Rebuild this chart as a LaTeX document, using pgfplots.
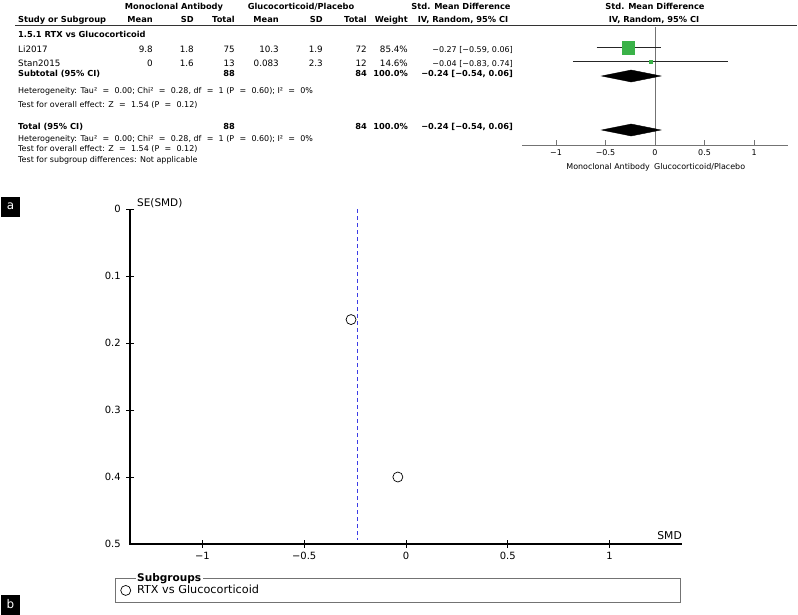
\documentclass[border=0pt]{standalone}
\usepackage{fontspec}
\setmainfont{DejaVu Sans}
\usepackage{pgfplots}
\pgfplotsset{compat=1.18}

\definecolor{boxgreen}{RGB}{58,178,72}
\definecolor{poolblue}{RGB}{60,60,230}
\definecolor{axgray}{RGB}{115,115,115}

\tikzset{
  tx/.style={font=\fontsize{8}{9.6}\selectfont, inner sep=0pt},
  nx/.style={font=\fontsize{8.8}{10}\selectfont, inner sep=0pt},
  bx/.style={font=\fontsize{8.3}{9.6}\selectfont\bfseries, inner sep=0pt},
}
\newcommand{\eq}{\hskip 5.3bp=\hskip 5.3bp}

\begin{document}
\begin{tikzpicture}
\path[use as bounding box] (0,0) rectangle (798bp,-615bp);

% ---- forest plot (panel a, right side)
\begin{axis}[
  at={(522bp,-145bp)}, anchor=south west,
  scale only axis, width=266bp, height=118bp,
  xmin=-1.343, xmax=1.343, ymin=0, ymax=118,
  axis x line=bottom, axis y line=none,
  axis line style={axgray, -},
  xtick={-1,-0.5,0,0.5,1}, xticklabels={−1,−0.5,0,0.5,1},
  tick align=inside, major tick length=5bp, tick style={axgray},
  x tick label style={font=\fontsize{8}{9.6}\selectfont, inner sep=0pt, yshift=-4bp},
  clip=false,
]
\draw[axgray] (axis cs:0,0) -- (axis cs:0,118);
% CI lines
\addplot[black!85, line width=0.7bp] coordinates {(-0.59,97.5) (0.06,97.5)};
\addplot[black!85, line width=0.7bp] coordinates {(-0.83,83.3) (0.74,83.3)};
% study estimates
\addplot[only marks, mark=square*, mark size=6.2bp, mark options={fill=boxgreen, draw=boxgreen}] coordinates {(-0.27,97.5)};
\addplot[only marks, mark=square*, mark size=1.6bp, mark options={fill=boxgreen, draw=boxgreen}] coordinates {(-0.04,83.3)};
% pooled diamonds
\addplot[fill=black, draw=black] coordinates {(-0.54,69) (-0.24,75) (0.06,69) (-0.24,63)} -- cycle;
\addplot[fill=black, draw=black] coordinates {(-0.54,15) (-0.24,21) (0.06,15) (-0.24,9)} -- cycle;
\end{axis}

% ---- funnel plot (panel b)
\begin{axis}[
  at={(130bp,-544bp)}, anchor=south west,
  scale only axis, width=552bp, height=335bp,
  xmin=-1.356, xmax=1.356, ymin=0, ymax=0.5, y dir=reverse,
  axis lines=left, axis line style={draw=none},
  xtick={-1,-0.5,0,0.5,1}, xticklabels={−1,−0.5,0,0.5,1},
  ytick={0,0.1,0.2,0.3,0.4,0.5}, yticklabels={0,0.1,0.2,0.3,0.4,0.5},
  tick style={draw=none},
  tick label style={font=\fontsize{10}{12}\selectfont},
  x tick label style={inner sep=0pt, yshift=-6bp},
  y tick label style={inner sep=0pt, xshift=-7bp},
  clip=false,
  legend style={at={(-0.0272,-0.1015)}, anchor=north west, draw=axgray, line width=0.8bp,
    font=\fontsize{11.3}{13}\selectfont, inner xsep=5bp, inner ysep=5bp,
    /tikz/every odd column/.append style={column sep=4bp}},
  legend cell align=left,
  legend image code/.code={\draw[black, line width=0.7bp, solid] (0bp,0bp) circle (5bp);},
]
% axis lines and crossing ticks
\addplot[black, line width=1.2bp, forget plot] coordinates {(-1.356,0) (-1.356,0.5) (1.356,0.5)};
\addplot[only marks, mark=|, mark size=4bp, mark options={black, line width=1bp}, forget plot]
  coordinates {(-1,0.5) (-0.5,0.5) (0,0.5) (0.5,0.5) (1,0.5)};
\addplot[only marks, mark=-, mark size=4bp, mark options={black, line width=1bp}, forget plot]
  coordinates {(-1.356,0) (-1.356,0.1) (-1.356,0.2) (-1.356,0.3) (-1.356,0.4)};
% pooled estimate
\addplot[poolblue, line width=1bp, dash pattern=on 4bp off 3bp, forget plot] coordinates {(-0.24,0) (-0.24,0.494)};
% studies
\addplot[only marks, mark=o, mark size=5bp, mark options={black, line width=0.7bp}] coordinates {(-0.27,0.165) (-0.04,0.40)};
\addlegendentry{\makebox[536bp][l]{RTX vs Glucocorticoid}}
\end{axis}

\begin{scope}[x=1bp, y=-1bp]
% funnel x axis line and ticks, also as thin filled bars
\fill[black] (130,543.4) rectangle (682,544.6);
\foreach \xx in {202.4,304.2,406,507.8,609.6} {\fill[black] (\xx-0.5,540) rectangle (\xx+0.5,548);}
\foreach \yy in {209,276,343,410,477} {\fill[black] (126,\yy-0.5) rectangle (134,\yy+0.5);}
% header
\node[bx, anchor=base] at (174,9) {Monoclonal Antibody};
\node[bx, anchor=base] at (301,9) {Glucocorticoid/Placebo};
\node[bx, anchor=base] at (461,9) {Std. Mean Difference};
\node[bx, anchor=base] at (655,9) {Std. Mean Difference};
\node[bx, anchor=base west] at (18,22) {Study or Subgroup};
\node[bx, anchor=base east] at (153,22) {Mean};
\node[bx, anchor=base east] at (194,22) {SD};
\node[bx, anchor=base east] at (235,22) {Total};
\node[bx, anchor=base east] at (279,22) {Mean};
\node[bx, anchor=base east] at (323,22) {SD};
\node[bx, anchor=base east] at (367,22) {Total};
\node[bx, anchor=base east] at (408,22) {Weight};
\node[bx, anchor=base] at (463,22) {IV, Random, 95\% CI};
\node[bx, anchor=base] at (654,22) {IV, Random, 95\% CI};
\draw[black!80, line width=0.8bp] (15,25.5) -- (797,25.5);
% rows
\node[bx, anchor=base west] at (18,37) {1.5.1 RTX vs Glucocorticoid};
\node[nx, anchor=base west] at (18,52.5) {Li2017};
\node[nx, anchor=base east] at (153,52.5) {9.8};
\node[nx, anchor=base east] at (194,52.5) {1.8};
\node[nx, anchor=base east] at (235,52.5) {75};
\node[nx, anchor=base east] at (279,52.5) {10.3};
\node[nx, anchor=base east] at (323,52.5) {1.9};
\node[nx, anchor=base east] at (367,52.5) {72};
\node[nx, anchor=base east] at (408,52.5) {85.4\%};
\node[tx, anchor=base east] at (513,52.5) {−0.27 [−0.59, 0.06]};
\node[nx, anchor=base west] at (18,66) {Stan2015};
\node[nx, anchor=base east] at (153,66) {0};
\node[nx, anchor=base east] at (194,66) {1.6};
\node[nx, anchor=base east] at (235,66) {13};
\node[nx, anchor=base east] at (279,66) {0.083};
\node[nx, anchor=base east] at (323,66) {2.3};
\node[nx, anchor=base east] at (367,66) {12};
\node[nx, anchor=base east] at (408,66) {14.6\%};
\node[tx, anchor=base east] at (513,66) {−0.04 [−0.83, 0.74]};
\node[bx, anchor=base west] at (18,76) {Subtotal (95\% CI)};
\node[bx, anchor=base east] at (235,76) {88};
\node[bx, anchor=base east] at (367,76) {84};
\node[bx, anchor=base east] at (408,76) {100.0\%};
\node[bx, anchor=base east] at (513,76) {−0.24 [−0.54, 0.06]};
\node[tx, anchor=base west] at (18,93) {Heterogeneity: Tau²\eq0.00; Chi²\eq0.28, df\eq1 (P\eq0.60); I²\eq0\%};
\node[tx, anchor=base west] at (18,107) {Test for overall effect: Z\eq1.54 (P\eq0.12)};
\node[bx, anchor=base west] at (18,129) {Total (95\% CI)};
\node[bx, anchor=base east] at (235,129) {88};
\node[bx, anchor=base east] at (367,129) {84};
\node[bx, anchor=base east] at (408,129) {100.0\%};
\node[bx, anchor=base east] at (513,129) {−0.24 [−0.54, 0.06]};
\node[tx, anchor=base west] at (18,141) {Heterogeneity: Tau²\eq0.00; Chi²\eq0.28, df\eq1 (P\eq0.60); I²\eq0\%};
\node[tx, anchor=base west] at (18,151) {Test for overall effect: Z\eq1.54 (P\eq0.12)};
\node[tx, anchor=base west] at (18,162) {Test for subgroup differences: Not applicable};
% forest x label
\node[tx, anchor=base east] at (650,169) {Monoclonal Antibody};
\node[tx, anchor=base west] at (654,169) {Glucocorticoid/Placebo};
% panel letters
\fill[black] (1,197) rectangle (20,217);
\node[font=\fontsize{12}{14}\selectfont, text=white, inner sep=0pt] at (10.5,206.5) {a};
\fill[black] (1,595) rectangle (20,615);
\node[font=\fontsize{12}{14}\selectfont, text=white, inner sep=0pt] at (10.5,604.5) {b};
% funnel labels
\node[font=\fontsize{10.5}{12}\selectfont, inner sep=0pt, anchor=base west] at (137,206) {SE(SMD)};
\node[font=\fontsize{10.8}{12}\selectfont, inner sep=0pt, anchor=base east] at (682,539) {SMD};
\node[font=\fontsize{10.6}{12}\selectfont\bfseries, inner sep=1.5bp, fill=white, anchor=base west] at (135.5,581) {Subgroups};
\end{scope}
\end{tikzpicture}
\end{document}
